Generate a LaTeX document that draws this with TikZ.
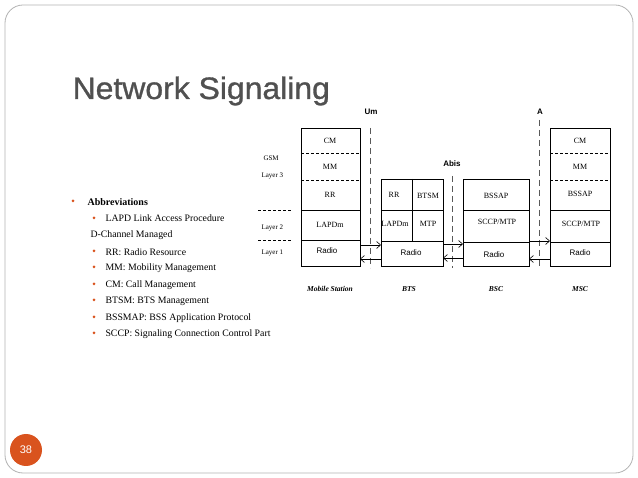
\documentclass[tikz,border=0pt]{standalone}
\usepackage{fontspec}
\setmainfont{Liberation Serif}
\newfontfamily\sans{Liberation Sans}
\usetikzlibrary{arrows.meta}
\definecolor{accent}{HTML}{D9531E}
\definecolor{titlegray}{HTML}{505050}
\begin{document}
\begin{tikzpicture}[x=1pt,y=-1pt,
  box/.style={draw,line width=0.8pt},
  sep/.style={line width=0.8pt},
  dsep/.style={densely dashed,line width=0.7pt},
  iface/.style={dash pattern=on 6pt off 4pt,line width=0.6pt,gray!70!black},
  lay/.style={font=\fontsize{8}{9}\selectfont},
  sl/.style={font=\fontsize{7}{8}\selectfont,anchor=west},
  nm/.style={font=\fontsize{7.5}{8}\selectfont\bfseries\itshape},
  arr/.style={-{Straight Barb[length=4pt,width=7pt]},line width=0.6pt},
  itm/.style={font=\fontsize{9.8}{11}\selectfont,anchor=west},
  bul/.style={circle,fill=accent,inner sep=0pt,minimum size=3pt}]
\useasboundingbox (0,0) rectangle (638,478);
\draw[gray!60,line width=0.8pt,rounded corners=18pt] (5,5) rectangle (633,473);
\node[font=\sans\fontsize{31}{33}\selectfont,text=titlegray,anchor=base west,xscale=1.03] (title) at (69,99) {\addfontfeature{FakeBold=1}Network Signaling};
% left labels
\node[sl] (gsm) at (260,158) {GSM};
\node[sl] (l3) at (258,176) {Layer 3};
\node[sl] (l2) at (258,228) {Layer 2};
\node[sl] (l1) at (258,253) {Layer 1};
\draw[dsep] (258,210) -- (292,210);
\draw[dsep] (258,240) -- (292,240);
% interfaces
\draw[iface] (370,128) -- (370,268);
\draw[iface] (452,176) -- (452,268);
\draw[iface] (539,120) -- (539,268);
\node[font=\sans\bfseries\fontsize{8}{9}\selectfont] (um) at (371,112) {Um};
\node[font=\sans\bfseries\fontsize{8}{9}\selectfont] (abis) at (452,164) {Abis};
\node[font=\sans\bfseries\fontsize{8}{9}\selectfont] (a) at (540,112) {A};
% MS
\draw[box] (301,128) rectangle (360,266);
\draw[dsep] (301,153) -- (360,153); \draw[dsep] (301,180) -- (360,180);
\draw[sep] (301,210) -- (360,210); \draw[sep] (301,240) -- (360,240);
\node[lay] (mscm) at (330,141) {CM};
\node[lay] (msmm) at (330,167) {MM};
\node[lay] (msrr) at (330,195) {RR};
\node[lay] (msl2) at (330,225) {LAPDm};
\node[lay,font=\sans\fontsize{8}{9}\selectfont] (msr) at (327,251) {Radio};
% BTS
\draw[box] (381,179) rectangle (443,266);
\draw[sep] (381,210) -- (443,210); \draw[sep] (381,241) -- (443,241);
\draw[sep] (412,179) -- (412,241);
\node[lay] (btsrr) at (394,195) {RR};
\node[lay] (btsm) at (428,196) {BTSM};
\node[lay] (btsl) at (395,224) {LAPDm};
\node[lay] (btsmtp) at (428,224) {MTP};
\node[lay,font=\sans\fontsize{8}{9}\selectfont] (btsr) at (411,253) {Radio};
% BSC
\draw[box] (463,179) rectangle (529,266);
\draw[sep] (463,210) -- (529,210); \draw[sep] (463,242) -- (529,242);
\node[lay] (bscb) at (496,196) {BSSAP};
\node[lay] (bscs) at (497,222) {SCCP/MTP};
\node[lay,font=\sans\fontsize{8}{9}\selectfont] (bscr) at (494,255) {Radio};
% MSC
\draw[box] (550,128) rectangle (610,266);
\draw[dsep] (550,153) -- (610,153); \draw[dsep] (550,180) -- (610,180);
\draw[sep] (550,210) -- (610,210); \draw[sep] (550,242) -- (610,242);
\node[lay] (mcm) at (580,141) {CM};
\node[lay] (mmm) at (580,167) {MM};
\node[lay] (mb) at (580,194) {BSSAP};
\node[lay] (ms) at (581,224) {SCCP/MTP};
\node[lay,font=\sans\fontsize{8}{9}\selectfont] (mr) at (580,253) {Radio};
% arrows
\coordinate (a1s) at (360,245); \coordinate (a1e) at (381,245);
\coordinate (a2s) at (381,259); \coordinate (a2e) at (360,259);
\coordinate (b1s) at (443,244); \coordinate (b1e) at (463,244);
\coordinate (b2s) at (463,258); \coordinate (b2e) at (443,258);
\coordinate (c1s) at (529,241); \coordinate (c1e) at (550,241);
\coordinate (c2s) at (550,259); \coordinate (c2e) at (529,259);
\draw[arr] (a1s) -- (a1e); \draw[arr] (a2s) -- (a2e);
\draw[arr] (b1s) -- (b1e); \draw[arr] (b2s) -- (b2e);
\draw[arr] (c1s) -- (c1e); \draw[arr] (c2s) -- (c2e);
% names
\node[nm] (n1) at (330,289) {Mobile Station};
\node[nm] (n2) at (409,289) {BTS};
\node[nm] (n3) at (496,289) {BSC};
\node[nm] (n4) at (580,289) {MSC};
% bullets
\node[bul] (b0) at (73,201) {};
\node[itm,font=\fontsize{10}{11}\selectfont\bfseries] (t0) at (84,202) {Abbreviations};
\node[bul] (b1) at (94,218) {}; \node[itm] (t1) at (102,218) {LAPD Link Access Procedure};
\node[itm] (t1b) at (87,235) {D-Channel Managed};
\node[bul] (b2) at (94,251) {}; \node[itm] (t2) at (102,252) {RR: Radio Resource};
\node[bul] (b3) at (94,267) {}; \node[itm] (t3) at (102,268) {MM: Mobility Management};
\node[bul] (b4) at (94,284) {}; \node[itm] (t4) at (102,285) {CM: Call Management};
\node[bul] (b5) at (94,300) {}; \node[itm] (t5) at (102,301) {BTSM: BTS Management};
\node[bul] (b6) at (94,317) {}; \node[itm] (t6) at (102,318) {BSSMAP: BSS Application Protocol};
\node[bul] (b7) at (94,333) {}; \node[itm] (t7) at (102,334) {SCCP: Signaling Connection Control Part};
% page number
\node[circle,fill=accent,minimum size=32pt,inner sep=0pt,text=white,font=\sans\fontsize{11}{12}\selectfont] (pg) at (26,450) {38};
\end{tikzpicture}
\end{document}
